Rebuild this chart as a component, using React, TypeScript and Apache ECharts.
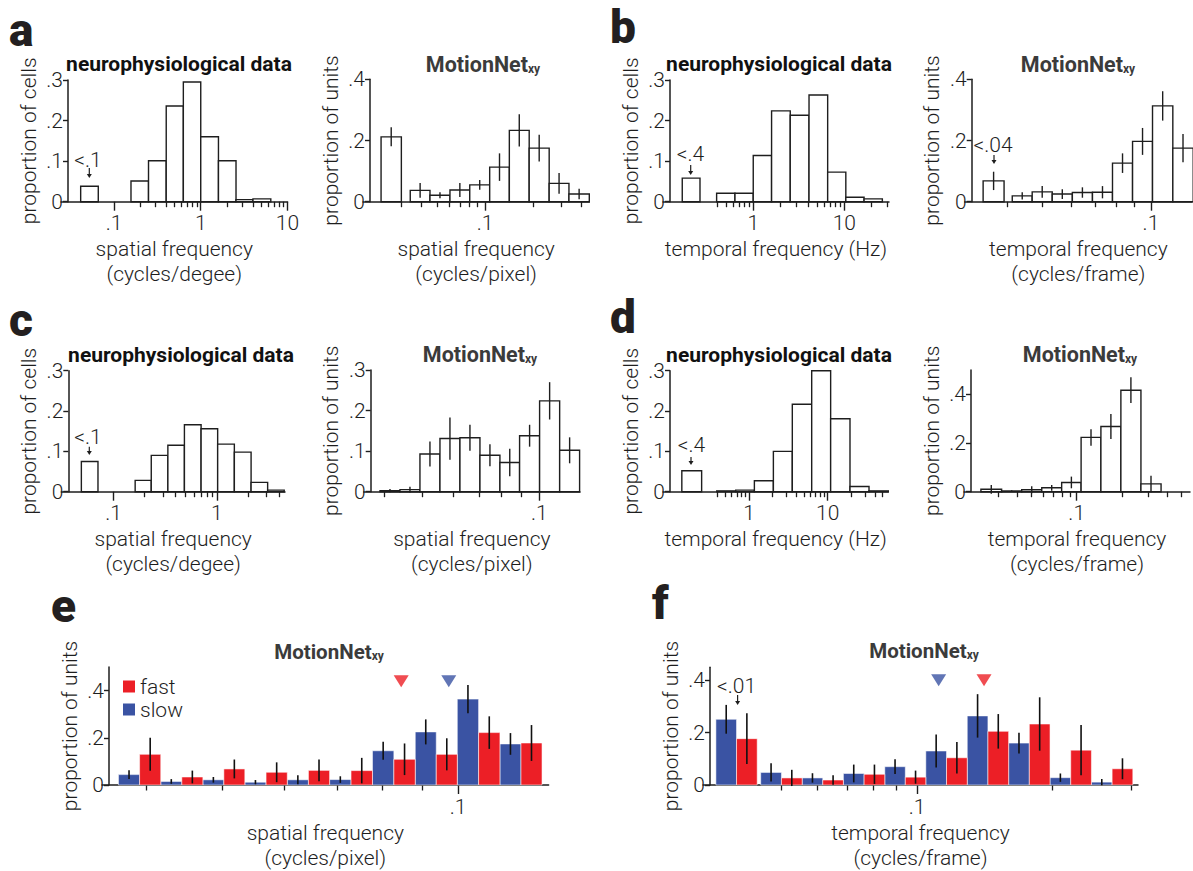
import React, { useEffect, useRef } from "react";
import * as echarts from "echarts";

// ---------------- DATA ----------------
// a — neurophysiological data (spatial frequency, cycles/degree)
const aNeuroLowBin = [0.0413, 0.0659];
const aNeuroLowValue = 0.038;
const aNeuroEdges = [0.157, 0.25, 0.4, 0.63, 1, 1.6, 2.55, 4.0, 6.42];
const aNeuroValues = [0.051, 0.101, 0.236, 0.295, 0.16, 0.101, 0.005, 0.007];

// a — MotionNet (spatial frequency, cycles/pixel)
const aModelLowBin = [0.0224, 0.03];
const aModelLowValue = 0.212;
const aModelLowError = 0.031;
const aModelEdges = [0.0341, 0.0453, 0.0604, 0.0803, 0.107, 0.142, 0.189, 0.252, 0.335, 0.449];
const aModelValues = [0.037, 0.021, 0.038, 0.055, 0.113, 0.233, 0.175, 0.06, 0.025];
const aModelErrors = [0.024, 0.01, 0.023, 0.016, 0.045, 0.053, 0.044, 0.034, 0.017];

// b — neurophysiological data (temporal frequency, Hz)
const bNeuroLowBin = [0.166, 0.26];
const bNeuroLowValue = 0.058;
const bNeuroEdges = [0.396, 0.63, 1, 1.59, 2.55, 4.1, 6.57, 10.4, 16.5, 26.2];
const bNeuroValues = [0.021, 0.021, 0.114, 0.224, 0.213, 0.263, 0.073, 0.011, 0.007];

// b — MotionNet (temporal frequency, cycles/frame)
const bModelLowBin = [0.0342, 0.0391];
const bModelLowValue = 0.068;
const bModelLowError = 0.03;
const bModelEdges = [0.0412, 0.0468, 0.0532, 0.0605, 0.0688, 0.0782, 0.0889, 0.101, 0.115, 0.131];
const bModelValues = [0.019, 0.032, 0.025, 0.03, 0.031, 0.126, 0.197, 0.313, 0.175];
const bModelErrors = [0.012, 0.019, 0.016, 0.017, 0.02, 0.032, 0.044, 0.048, 0.046];

// c — neurophysiological data (spatial frequency, cycles/degree)
const cNeuroLowBin = [0.0488, 0.0707];
const cNeuroLowValue = 0.075;
const cNeuroEdges = [0.162, 0.232, 0.336, 0.486, 0.705, 1.02, 1.48, 2.15, 3.11, 4.5];
const cNeuroValues = [0.028, 0.09, 0.115, 0.166, 0.156, 0.118, 0.098, 0.023, 0.004];

// c — MotionNet (spatial frequency, cycles/pixel)
const cModelEdges = [0.03904, 0.04393, 0.04943, 0.05563, 0.0626, 0.07045, 0.07927, 0.08903, 0.1002, 0.1128, 0.1269];
const cModelValues = [0.0025, 0.005, 0.093, 0.131, 0.133, 0.09, 0.072, 0.138, 0.224, 0.102];
const cModelErrors = [0.004, 0.007, 0.031, 0.052, 0.032, 0.027, 0.034, 0.027, 0.046, 0.032];

// d — neurophysiological data (temporal frequency, Hz)
const dNeuroLowBin = [0.14, 0.25];
const dNeuroLowValue = 0.052;
const dNeuroEdges = [0.389, 0.678, 1.17, 2.04, 3.55, 6.26, 10.9, 19.2, 33.5, 58.9];
const dNeuroValues = [0.002, 0.004, 0.027, 0.1, 0.217, 0.3, 0.181, 0.013, 0.002];

// d — MotionNet (temporal frequency, cycles/frame)
const dModelEdges = [0.023, 0.0316, 0.043, 0.0585, 0.0794, 0.107, 0.145, 0.197, 0.268, 0.365];
const dModelValues = [0.01, 0.003, 0.008, 0.016, 0.038, 0.223, 0.268, 0.417, 0.032];
const dModelErrors = [0.018, 0.003, 0.014, 0.012, 0.024, 0.034, 0.051, 0.053, 0.034];

// e — MotionNet fast / slow (spatial frequency, cycles/pixel)
const eBinEdges = [0.03684, 0.04172, 0.04722, 0.05342, 0.06052, 0.06854, 0.07775, 0.08817, 0.09977, 0.1131, 0.128];
const eSlowValues = [0.044, 0.015, 0.022, 0.012, 0.022, 0.023, 0.145, 0.225, 0.364, 0.174];
const eSlowErrors = [0.019, 0.01, 0.012, 0.009, 0.019, 0.014, 0.038, 0.053, 0.06, 0.046];
const eFastValues = [0.13, 0.034, 0.068, 0.054, 0.062, 0.061, 0.109, 0.13, 0.222, 0.178];
const eFastErrors = [0.07, 0.027, 0.04, 0.042, 0.046, 0.054, 0.067, 0.068, 0.069, 0.076];
const eFastPreferred = 0.0846;
const eSlowPreferred = 0.0973;

// f — MotionNet fast / slow (temporal frequency, cycles/frame)
const fLowBin = [0.03573, 0.04414];
const fBinEdges = [0.04494, 0.05556, 0.06861, 0.0848, 0.1046, 0.1293, 0.1598, 0.1975, 0.2441, 0.3017];
const fSlowValues = [0.251, 0.048, 0.027, 0.044, 0.07, 0.13, 0.264, 0.16, 0.028, 0.011];
const fSlowErrors = [0.055, 0.035, 0.018, 0.034, 0.028, 0.063, 0.083, 0.04, 0.016, 0.012];
const fFastValues = [0.177, 0.027, 0.019, 0.041, 0.03, 0.104, 0.205, 0.233, 0.133, 0.062];
const fFastErrors = [0.097, 0.031, 0.018, 0.037, 0.025, 0.06, 0.066, 0.102, 0.096, 0.04];
const fSlowPreferred = 0.1117;
const fFastPreferred = 0.1409;

// tick values / labels
const ticksA1 = { major: [0.1, 1, 10], labels: [".1", "1", "10"], minor: [0.2, 0.3, 0.4, 0.5, 0.6, 0.7, 0.8, 0.9, 2, 3, 4, 5, 6, 7, 8, 9] };
const ticksA2 = { major: [0.1], labels: [".1"], minor: [0.03, 0.04, 0.05, 0.06, 0.07, 0.08, 0.09, 0.2, 0.3, 0.4] };
const ticksB1 = { major: [1, 10], labels: ["1", "10"], minor: [0.4, 0.5, 0.6, 0.7, 0.8, 0.9, 2, 3, 4, 5, 6, 7, 8, 9, 20, 30] };
const ticksB2 = { major: [0.1], labels: [".1"], minor: [0.04, 0.05, 0.06, 0.07, 0.08, 0.09] };
const ticksC1 = { major: [0.1, 1], labels: [".1", "1"], minor: [0.2, 0.3, 0.4, 0.5, 0.6, 0.7, 0.8, 0.9, 2, 3, 4] };
const ticksC2 = { major: [0.1], labels: [".1"], minor: [0.04, 0.05, 0.06, 0.07, 0.08, 0.09] };
const ticksD1 = { major: [1, 10], labels: ["1", "10"], minor: [0.4, 0.5, 0.6, 0.7, 0.8, 0.9, 2, 3, 4, 5, 6, 7, 8, 9, 20, 30, 40, 50] };
const ticksD2 = { major: [0.1], labels: [".1"], minor: [0.03, 0.04, 0.05, 0.06, 0.07, 0.08, 0.09, 0.2, 0.3, 0.4, 0.5] };
const ticksE = { major: [0.1], labels: [".1"], minor: [0.04, 0.05, 0.06, 0.07, 0.08, 0.09] };
const ticksF = { major: [0.1], labels: [".1"], minor: [0.05, 0.06, 0.07, 0.08, 0.09, 0.2, 0.3] };

// ---------------- STYLE / LAYOUT ----------------
const FONT = "Roboto";
const INK = "#1e1e1e";
const RED = "#ec1f26";
const BLUE = "#3a53a3";
const TICK_FS = 21;
const NAME_FS = 21;
const lg = (v: number) => Math.log10(v);

type Panel = {
  axisX: number; right: number; top: number; base: number;
  xMin: number; xMax: number; yMax: number; yTicks: number[];
  ticks: { major: number[]; labels: string[]; minor: number[] };
  yName: string; xName: string;
};

const panels: Panel[] = [
  { axisX: 68, right: 287.5, top: 80, base: 201.7, xMin: 0.0245, xMax: 10, yMax: 0.3, yTicks: [0, 0.1, 0.2, 0.3], ticks: ticksA1, yName: "proportion of cells", xName: "spatial frequency\n(cycles/degee)" },
  { axisX: 370, right: 589.3, top: 79.3, base: 201.7, xMin: 0.01727, xMax: 0.449, yMax: 0.4, yTicks: [0, 0.2, 0.4], ticks: ticksA2, yName: "proportion of units", xName: "spatial frequency\n(cycles/pixel)" },
  { axisX: 670, right: 889, top: 80, base: 201.7, xMin: 0.102, xMax: 31, yMax: 0.3, yTicks: [0, 0.1, 0.2, 0.3], ticks: ticksB1, yName: "proportion of cells", xName: "temporal frequency (Hz)" },
  { axisX: 971.7, right: 1192, top: 79.3, base: 201.7, xMin: 0.0304, xMax: 0.13, yMax: 0.4, yTicks: [0, 0.2, 0.4], ticks: ticksB2, yName: "proportion of units", xName: "temporal frequency\n(cycles/frame)" },
  { axisX: 68.3, right: 285, top: 370.7, base: 491.7, xMin: 0.0312, xMax: 4.58, yMax: 0.3, yTicks: [0, 0.1, 0.2, 0.3], ticks: ticksC1, yName: "proportion of cells", xName: "spatial frequency\n(cycles/degee)" },
  { axisX: 370.7, right: 580, top: 370, base: 491.7, xMin: 0.03546, xMax: 0.1272, yMax: 0.3, yTicks: [0, 0.1, 0.2, 0.3], ticks: ticksC2, yName: "proportion of units", xName: "spatial frequency\n(cycles/pixel)" },
  { axisX: 670, right: 888.3, top: 370.7, base: 491.7, xMin: 0.0807, xMax: 58.9, yMax: 0.3, yTicks: [0, 0.1, 0.2, 0.3], ticks: ticksD1, yName: "proportion of cells", xName: "temporal frequency (Hz)" },
  { axisX: 971, right: 1190, top: 370, base: 491.7, xMin: 0.01774, xMax: 0.569, yMax: 0.5, yTicks: [0, 0.2, 0.4], ticks: ticksD2, yName: "proportion of units", xName: "temporal frequency\n(cycles/frame)" },
  { axisX: 109, right: 548.6, top: 667, base: 793, xMin: 0.0351, xMax: 0.1305, yMax: 0.5, yTicks: [0, 0.2, 0.4], ticks: ticksE, yName: "proportion of units", xName: "spatial frequency\n(cycles/pixel)" },
  { axisX: 710, right: 1138, top: 667.2, base: 793.1, xMin: 0.03345, xMax: 0.3098, yMax: 0.45, yTicks: [0, 0.2, 0.4], ticks: ticksF, yName: "proportion of units", xName: "temporal frequency\n(cycles/frame)" },
];

const EXT = 7; // x-axis line extends left of the y axis

// ---------------- HELPERS ----------------
function histRows(edges: number[], values: number[], errors?: number[]) {
  return values.map((v, i) => [lg(edges[i]), lg(edges[i + 1]), v, errors ? errors[i] : 0]);
}
function lowRow(bin: number[], v: number, e = 0) {
  return [lg(bin[0]), lg(bin[1]), v, e];
}
// paired bins: slow in the left half, fast in the right half
function pairRows(edges: number[], values: number[], errors: number[], half: 0 | 1) {
  return values.map((v, i) => {
    const a = lg(edges[i]);
    const b = lg(edges[i + 1]);
    const m = (a + b) / 2;
    return half === 0 ? [a, m, v, errors[i]] : [m, b, v, errors[i]];
  });
}

function renderHist(_p: any, api: any) {
  const x0 = api.value(0), x1 = api.value(1), v = api.value(2), e = api.value(3);
  const a = api.coord([x0, 0]);
  const b = api.coord([x1, v]);
  const children: any[] = [
    { type: "rect", shape: { x: a[0], y: b[1], width: b[0] - a[0], height: a[1] - b[1] }, style: { fill: "#fff", stroke: INK, lineWidth: 1.4 } },
  ];
  if (e > 0) {
    const c = api.coord([(x0 + x1) / 2, v + e]);
    const d = api.coord([(x0 + x1) / 2, v - e]);
    children.push({ type: "line", shape: { x1: c[0], y1: c[1], x2: d[0], y2: d[1] }, style: { stroke: INK, lineWidth: 1.4 } });
  }
  return { type: "group", children };
}

function makeRenderColored(color: string) {
  return (_p: any, api: any) => {
    const x0 = api.value(0), x1 = api.value(1), v = api.value(2), e = api.value(3);
    const a = api.coord([x0, 0]);
    const b = api.coord([x1, v]);
    const c = api.coord([(x0 + x1) / 2, v + e]);
    const d = api.coord([(x0 + x1) / 2, v - e]);
    return {
      type: "group",
      children: [
        { type: "rect", shape: { x: a[0], y: b[1], width: b[0] - a[0], height: a[1] - b[1] }, style: { fill: color, stroke: "rgba(255,255,255,0.55)", lineWidth: 1 } },
        { type: "line", shape: { x1: c[0], y1: c[1], x2: d[0], y2: d[1] }, style: { stroke: "#111", lineWidth: 1.6 } },
      ],
    };
  };
}

function fmtY(v: number) {
  if (Math.abs(v) < 1e-9) return "0";
  return String(Math.round(v * 10) / 10).replace(/^0/, "");
}

function buildOption() {
  const grid: any[] = [];
  const xAxis: any[] = [];
  const yAxis: any[] = [];
  const series: any[] = [];

  panels.forEach((p, i) => {
    grid.push({ left: p.axisX - EXT, top: p.top, width: p.right - (p.axisX - EXT), height: p.base - p.top, containLabel: false });
    const majorL = p.ticks.major.map(lg);
    const labelFor = (v: number) => {
      let best = 0;
      majorL.forEach((m, k) => { if (Math.abs(m - v) < Math.abs(majorL[best] - v)) best = k; });
      return p.ticks.labels[best];
    };
    xAxis.push({
      gridIndex: i, type: "value", min: lg(p.xMin), max: lg(p.xMax), position: "bottom",
      splitLine: { show: false },
      axisLine: { show: true, onZero: false, lineStyle: { color: INK, width: 1.5 } },
      axisTick: { show: true, customValues: majorL, length: 9, lineStyle: { color: INK, width: 1.4 } },
      axisLabel: { show: true, customValues: majorL, formatter: (v: number) => labelFor(v), fontFamily: FONT, fontWeight: 300, fontSize: TICK_FS, color: INK, margin: 11 },
      name: p.xName, nameLocation: "middle", nameGap: 35,
      nameTextStyle: { fontFamily: FONT, fontWeight: 300, fontSize: NAME_FS, color: INK, lineHeight: 25, verticalAlign: "top" },
    });
    xAxis.push({
      gridIndex: i, type: "value", min: lg(p.xMin), max: lg(p.xMax), position: "bottom",
      splitLine: { show: false },
      axisLine: { show: false, onZero: false },
      axisTick: { show: true, customValues: p.ticks.minor.map(lg), length: 5.5, lineStyle: { color: INK, width: 1.3 } },
      axisLabel: { show: false },
    });
    yAxis.push({
      gridIndex: i, type: "value", min: 0, max: p.yMax, offset: -EXT,
      splitLine: { show: false },
      axisLine: { show: true, onZero: false, lineStyle: { color: INK, width: 1.5 } },
      axisTick: { show: true, customValues: p.yTicks, length: 5, lineStyle: { color: INK, width: 1.4 } },
      axisLabel: { show: true, customValues: p.yTicks, formatter: fmtY, fontFamily: FONT, fontWeight: 300, fontSize: TICK_FS, color: INK, margin: 5 },
      name: p.yName, nameLocation: "middle", nameGap: 29,
      nameTextStyle: { fontFamily: FONT, fontWeight: 300, fontSize: NAME_FS, color: INK },
    });
  });

  const addHist = (i: number, rows: number[][]) => {
    series.push({ type: "custom", xAxisIndex: 2 * i, yAxisIndex: i, renderItem: renderHist, data: rows, z: 3, silent: true });
  };

  addHist(0, [lowRow(aNeuroLowBin, aNeuroLowValue), ...histRows(aNeuroEdges, aNeuroValues)]);
  addHist(1, [lowRow(aModelLowBin, aModelLowValue, aModelLowError), ...histRows(aModelEdges, aModelValues, aModelErrors)]);
  addHist(2, [lowRow(bNeuroLowBin, bNeuroLowValue), ...histRows(bNeuroEdges, bNeuroValues)]);
  addHist(3, [lowRow(bModelLowBin, bModelLowValue, bModelLowError), ...histRows(bModelEdges, bModelValues, bModelErrors)]);
  addHist(4, [lowRow(cNeuroLowBin, cNeuroLowValue), ...histRows(cNeuroEdges, cNeuroValues)]);
  addHist(5, histRows(cModelEdges, cModelValues, cModelErrors));
  addHist(6, [lowRow(dNeuroLowBin, dNeuroLowValue), ...histRows(dNeuroEdges, dNeuroValues)]);
  addHist(7, histRows(dModelEdges, dModelValues, dModelErrors));

  // e
  series.push({ name: "slow", type: "custom", xAxisIndex: 16, yAxisIndex: 8, itemStyle: { color: BLUE }, renderItem: makeRenderColored(BLUE), data: pairRows(eBinEdges, eSlowValues, eSlowErrors, 0), z: 3 });
  series.push({ name: "fast", type: "custom", xAxisIndex: 16, yAxisIndex: 8, itemStyle: { color: RED }, renderItem: makeRenderColored(RED), data: pairRows(eBinEdges, eFastValues, eFastErrors, 1), z: 3 });
  series.push({ type: "scatter", xAxisIndex: 16, yAxisIndex: 8, symbol: "triangle", symbolRotate: 180, symbolSize: [15, 12], itemStyle: { color: RED }, data: [[lg(eFastPreferred), 0.44]], z: 4, silent: true });
  series.push({ type: "scatter", xAxisIndex: 16, yAxisIndex: 8, symbol: "triangle", symbolRotate: 180, symbolSize: [15, 12], itemStyle: { color: BLUE }, data: [[lg(eSlowPreferred), 0.44]], z: 4, silent: true });

  // f: first bin (<.01) then regular bins
  const fMid = (lg(fLowBin[0]) + lg(fLowBin[1])) / 2;
  const fSlowRows = [
    [lg(fLowBin[0]), fMid, fSlowValues[0], fSlowErrors[0]],
    ...pairRows(fBinEdges, fSlowValues.slice(1), fSlowErrors.slice(1), 0),
  ];
  const fFastRows = [
    [fMid, lg(fLowBin[1]), fFastValues[0], fFastErrors[0]],
    ...pairRows(fBinEdges, fFastValues.slice(1), fFastErrors.slice(1), 1),
  ];
  series.push({ name: "slow", type: "custom", xAxisIndex: 18, yAxisIndex: 9, itemStyle: { color: BLUE }, renderItem: makeRenderColored(BLUE), data: fSlowRows, z: 3 });
  series.push({ name: "fast", type: "custom", xAxisIndex: 18, yAxisIndex: 9, itemStyle: { color: RED }, renderItem: makeRenderColored(RED), data: fFastRows, z: 3 });
  series.push({ type: "scatter", xAxisIndex: 18, yAxisIndex: 9, symbol: "triangle", symbolRotate: 180, symbolSize: [15, 12], itemStyle: { color: BLUE }, data: [[lg(fSlowPreferred), 0.40]], z: 4, silent: true });
  series.push({ type: "scatter", xAxisIndex: 18, yAxisIndex: 9, symbol: "triangle", symbolRotate: 180, symbolSize: [15, 12], itemStyle: { color: RED }, data: [[lg(fFastPreferred), 0.40]], z: 4, silent: true });

  // ---------- graphic texts ----------
  const g: any[] = [];
  const letter = (t: string, x: number, y: number) =>
    g.push({ type: "text", x, y, style: { text: t, font: `900 46px ${FONT}`, fill: "#231f20", textAlign: "left", textVerticalAlign: "middle" } });
  letter("a", 9, 30);
  letter("b", 610, 27);
  letter("c", 9, 320);
  letter("d", 610, 317);
  letter("e", 51, 606);
  letter("f", 652, 603);

  const neuroTitle = (x: number, y: number) =>
    g.push({ type: "text", x, y, style: { text: "neurophysiological data", font: `bold 21px ${FONT}`, fill: "#111", textAlign: "center", textVerticalAlign: "middle" } });
  neuroTitle(179, 64);
  neuroTitle(779, 64);
  neuroTitle(181, 355);
  neuroTitle(779, 355);

  const modelTitle = (x: number, y: number, fs: number) =>
    g.push({
      type: "text", x, y,
      style: {
        text: "{m|MotionNet}{s|xy}", textAlign: "center", textVerticalAlign: "middle",
        rich: {
          m: { fontFamily: FONT, fontWeight: "bold", fontSize: fs, fill: "#3b3b3b", lineHeight: 24, verticalAlign: "bottom" },
          s: { fontFamily: FONT, fontWeight: "bold", fontSize: 12, fill: "#3b3b3b", lineHeight: 22, verticalAlign: "bottom" },
        },
      },
    });
  modelTitle(483, 63, 21.5);
  modelTitle(1078, 63, 21.5);
  modelTitle(480, 353, 21.5);
  modelTitle(1080, 353, 21.5);
  modelTitle(329, 650, 20.5);
  modelTitle(924, 649, 20.5);

  const note = (t: string, tx: number, ty: number, ax: number, ay0: number, ay1: number) => {
    g.push({ type: "text", x: tx, y: ty, style: { text: t, font: `300 21px ${FONT}`, fill: INK, textAlign: "center", textVerticalAlign: "middle" } });
    g.push({ type: "line", shape: { x1: ax, y1: ay0, x2: ax, y2: ay1 - 3 }, style: { stroke: INK, lineWidth: 1.2 } });
    g.push({ type: "polygon", shape: { points: [[ax - 2.5, ay1 - 4], [ax + 2.5, ay1 - 4], [ax, ay1]] }, style: { fill: INK } });
  };
  note("<.1", 88, 160, 89.3, 168, 178);
  note("<.4", 690.5, 153.5, 690.7, 165, 175);
  note("<.04", 993, 144.5, 994, 155, 164);
  note("<.1", 88, 436.5, 89.3, 446.7, 455);
  note("<.4", 691.5, 445, 691, 457, 465);
  note("<.01", 736.5, 685.5, 737.6, 695, 705);

  return {
    animation: false,
    backgroundColor: "#fff",
    grid, xAxis, yAxis, series,
    legend: {
      data: ["fast", "slow"], left: 123, top: 676, orient: "vertical", icon: "rect",
      itemWidth: 12, itemHeight: 12, itemGap: 2, padding: 0, selectedMode: false,
      textStyle: { fontFamily: FONT, fontWeight: 300, fontSize: 21, color: INK, lineHeight: 21 },
    },
    graphic: g,
  };
}

export default function App() {
  const ref = useRef<HTMLDivElement>(null);
  useEffect(() => {
    document.body.style.margin = "0";
    const chart = echarts.init(ref.current!, null, { renderer: "svg" });
    chart.setOption(buildOption() as any);
    return () => chart.dispose();
  }, []);
  return <div ref={ref} style={{ width: 1193, height: 871 }} />;
}
